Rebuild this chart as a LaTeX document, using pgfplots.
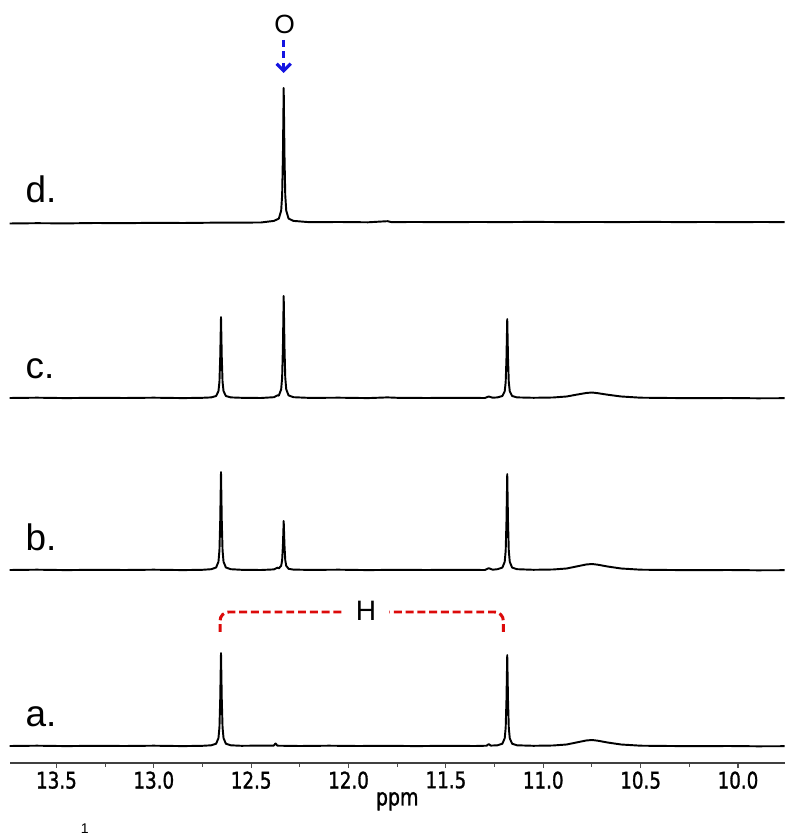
\documentclass[border=0pt]{standalone}
\usepackage{fontspec}
\setmainfont{Liberation Sans}
\newfontfamily\tickfont[FakeStretch=0.8,FakeBold=1.2]{DejaVu Sans}
\usepackage{pgfplots}
\pgfplotsset{compat=1.18}
\usetikzlibrary{arrows.meta}

\definecolor{brred}{RGB}{220,10,10}
\definecolor{arblue}{RGB}{20,20,225}

% spectra, y in picture units (baseline offsets a=17, b=193, c=365, d=541)
\pgfplotstableread{
x y
13.74 17.0
13.60 17.3
13.45 16.9
13.30 17.2
13.15 17.0
13.00 17.3
12.85 16.9
12.75 17.2
12.705 17.7
12.680 19.3
12.668 24.9
12.663 35.6
12.659 63.5
12.655 110
12.651 63.5
12.647 35.6
12.642 24.9
12.630 19.3
12.605 17.7
12.55 17.2
12.45 17.4
12.385 17.3
12.375 19.5
12.365 17.3
12.25 17.0
12.10 17.3
11.95 17.0
11.80 17.2
11.65 16.9
11.50 17.2
11.35 17.0
11.29 17.3
11.28 19.0
11.27 17.4
11.235 17.7
11.210 19.3
11.198 24.7
11.193 35.2
11.189 62.5
11.185 108
11.181 62.5
11.177 35.2
11.172 24.7
11.160 19.3
11.135 17.7
11.05 17.2
10.95 17.5
10.88 18.5
10.83 20.5
10.78 22.5
10.75 23.0
10.72 22.3
10.67 20.5
10.60 18.5
10.50 17.3
10.35 17.0
10.20 16.8
10.05 17.0
9.90 16.7
9.76 16.8
}\speca

\pgfplotstableread{
x y
13.74 193.0
13.60 193.3
13.45 192.9
13.30 193.2
13.15 193.0
13.00 193.3
12.85 192.9
12.75 193.2
12.705 193.8
12.680 195.5
12.668 201.3
12.663 212.6
12.659 242
12.655 291
12.651 242
12.647 212.6
12.642 201.3
12.630 195.5
12.605 193.8
12.55 193.2
12.45 193.0
12.383 193.6
12.365 195.4
12.358 194.6
12.346 197.2
12.341 202.8
12.337 217.5
12.333 242
12.329 217.5
12.325 202.8
12.320 197.2
12.308 194.2
12.283 193.4
12.20 193.1
12.05 193.3
11.90 192.9
11.75 193.2
11.60 193.0
11.45 193.2
11.30 193.0
11.28 194.8
11.26 193.3
11.235 193.8
11.210 195.4
11.198 201.2
11.193 212.2
11.189 241
11.185 289
11.181 241
11.177 212.2
11.172 201.2
11.160 195.4
11.135 193.8
11.05 193.2
10.95 193.5
10.88 194.5
10.83 196.5
10.78 198.5
10.75 199.0
10.72 198.3
10.67 196.5
10.60 194.5
10.50 193.3
10.35 193.0
10.20 192.8
10.05 193.0
9.90 192.7
9.76 192.8
}\specb

\pgfplotstableread{
x y
13.74 365.0
13.60 365.3
13.45 364.9
13.30 365.2
13.15 365.0
13.00 365.3
12.85 364.9
12.75 365.2
12.705 365.6
12.680 367.0
12.668 371.9
12.663 381.2
12.659 405.5
12.655 446
12.651 405.5
12.647 381.2
12.642 371.9
12.630 367.0
12.605 365.6
12.55 365.2
12.45 365.0
12.383 365.8
12.365 367.6
12.358 367.4
12.346 373.7
12.341 385.4
12.337 416
12.333 467
12.329 416
12.325 385.4
12.320 373.7
12.308 367.6
12.283 365.8
12.20 365.1
12.05 365.3
11.90 364.9
11.80 365.6
11.75 365.2
11.60 365.0
11.45 365.2
11.30 365.0
11.28 366.5
11.26 365.3
11.235 365.6
11.210 367.0
11.198 371.7
11.193 380.8
11.189 404.5
11.185 444
11.181 404.5
11.177 380.8
11.172 371.7
11.160 367.0
11.135 365.6
11.05 365.2
10.95 365.5
10.88 366.5
10.83 368.3
10.78 370.0
10.75 370.5
10.72 369.8
10.67 368.3
10.60 366.5
10.50 365.3
10.35 365.0
10.20 364.8
10.05 365.0
9.90 364.7
9.76 364.8
}\specc

\pgfplotstableread{
x y
13.74 539.5
13.60 539.8
13.45 539.6
13.30 540.0
13.15 539.8
13.00 540.2
12.85 540.0
12.70 540.3
12.55 540.4
12.45 540.5
12.383 542.1
12.358 544.4
12.346 552.4
12.341 567.8
12.337 608
12.333 675
12.329 608
12.325 567.8
12.320 552.4
12.308 544.4
12.283 542.1
12.20 540.8
12.05 541.0
11.90 540.7
11.80 541.8
11.78 540.9
11.65 541.0
11.50 540.8
11.35 541.0
11.20 540.9
11.05 541.1
10.90 540.9
10.75 541.0
10.60 540.9
10.45 541.1
10.30 540.9
10.15 541.0
10.00 540.8
9.90 541.0
9.76 540.9
}\specd

\begin{document}
\begin{tikzpicture}
\begin{axis}[
    name=ax,
    scale only axis,
    width=15.5cm, height=15.26cm,
    x dir=reverse,
    xmin=9.76, xmax=13.74,
    ymin=0, ymax=763,
    axis x line=bottom,
    axis y line=none,
    x axis line style={-, draw=black!75, line width=0.8pt},
    clip=false,
    xtick={10,10.5,...,13.5},
    minor x tick num=1,
    tick align=outside,
    major tick length=0.1cm,
    minor tick length=0.07cm,
    tick style={black!70, line width=0.6pt},
    xticklabel style={font=\tickfont\fontsize{13}{13}\selectfont, yshift=1.5pt},
    /pgf/number format/assume math mode=true,
    xticklabel={\pgfmathprintnumber[fixed,fixed zerofill,precision=1]{\tick}},
    xlabel={ppm},
    xlabel style={font=\tickfont\fontsize{13.5}{13.5}\selectfont, yshift=5pt},
    every axis plot/.append style={black, no markers, line width=1.1pt, line join=round},
]
\addplot[black, no markers] table {\speca};
\addplot[black, no markers] table {\specb};
\addplot[black, no markers] table {\specc};
\addplot[black, no markers] table {\specd};

\node[anchor=base west, font=\fontsize{21}{21}\selectfont] at (axis cs:13.69,560) {d.};
\node[anchor=base west, font=\fontsize{21}{21}\selectfont] at (axis cs:13.69,384) {c.};
\node[anchor=base west, font=\fontsize{21}{21}\selectfont] at (axis cs:13.69,212) {b.};
\node[anchor=base west, font=\fontsize{21}{21}\selectfont] at (axis cs:13.69,36) {a.};

% O label and arrow
\node[font=\fontsize{15}{15}\selectfont] at (axis cs:12.328,739) {O};
\draw[arblue, line width=1.8pt, dash pattern=on 4pt off 2.5pt, -{Straight Barb[length=4pt,width=8pt]}]
    (axis cs:12.333,723) -- (axis cs:12.333,690);

% H bracket
\draw[brred, line width=1.7pt, dash pattern=on 4.5pt off 2.2pt, rounded corners=5pt]
    (axis cs:12.66,131) -- (axis cs:12.66,151) -- (axis cs:12.02,151);
\draw[brred, line width=1.7pt, dash pattern=on 4.5pt off 2.2pt, rounded corners=5pt]
    (axis cs:11.205,131) -- (axis cs:11.205,151) -- (axis cs:11.79,151);
\node[font=\fontsize{16}{16}\selectfont] at (axis cs:11.91,152) {H};

\node[font=\fontsize{8}{8}\selectfont, anchor=south, inner sep=0pt] at (axis cs:13.355,-71) {1};

\coordinate (bbsw) at (axis cs:13.79,-72);
\coordinate (bbne) at (axis cs:9.683,763);
\end{axis}
\pgfresetboundingbox
\path[use as bounding box] (bbsw) rectangle (bbne);
\end{tikzpicture}
\end{document}
